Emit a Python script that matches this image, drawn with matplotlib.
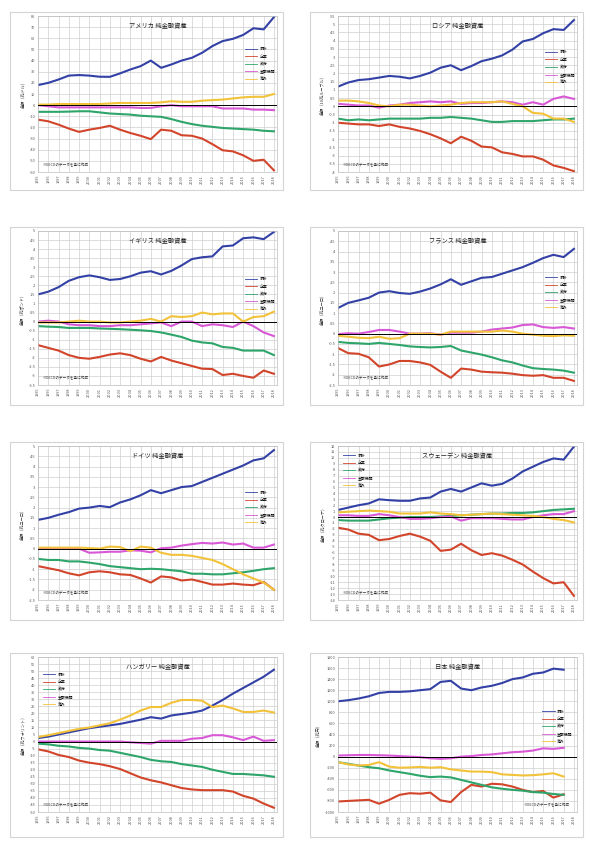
"""Net financial assets by sector for eight countries (OECD data)."""

import matplotlib

matplotlib.use("Agg")
import matplotlib.pyplot as plt
from matplotlib.patches import Rectangle
from matplotlib.ticker import FuncFormatter, MultipleLocator

plt.rcParams["font.family"] = ["Noto Sans CJK JP", "DejaVu Sans"]

years = [1995, 1996, 1997, 1998, 1999, 2000, 2001, 2002, 2003, 2004, 2005, 2006,
         2007, 2008, 2009, 2010, 2011, 2012, 2013, 2014, 2015, 2016, 2017, 2018]
sectors = ["家計", "企業", "政府", "金融機関", "海外"]

# アメリカ
usa_household = [18, 20, 23, 26.5, 27, 26.5, 25.5, 25.4, 28.5, 32, 35, 40,
                 33.5, 36.5, 40, 42.5, 47, 53, 57.5, 59.5, 63, 69, 68, 79]
usa_corporate = [-13, -14.5, -17.5, -21, -24, -22, -20.5, -18.5, -22, -25, -27.5, -30.5,
                 -22, -23, -27, -27.5, -30, -35, -40.5, -41.5, -45, -50, -49, -58.5]
usa_government = [-6, -6, -6, -5.8, -5.5, -5.5, -6.5, -7.5, -8, -8.5, -9.5, -10,
                  -10.5, -12.5, -15, -17, -18.5, -19.5, -20.5, -21, -21.5, -22, -23, -23.5]
usa_financial = [0, -1, -2, -2, -2, -2, -2, -2, -2, -2, -2.5, -2.5,
                 -1, 0, -1, -1, -1, -1, -3, -3, -3, -4, -4, -4.5]
usa_foreign = [0.5, 0.5, 1, 1, 1, 1, 1, 1.5, 2, 2, 2, 2,
               2.5, 3.5, 3, 3, 4, 4.5, 5, 6, 7, 7.5, 7.5, 10]

# ロシア
rus_household = [1.2, 1.45, 1.6, 1.65, 1.75, 1.85, 1.8, 1.7, 1.85, 2.05, 2.35, 2.5,
                 2.2, 2.45, 2.75, 2.9, 3.1, 3.45, 3.95, 4.1, 4.45, 4.7, 4.65, 5.25]
rus_corporate = [-1.0, -1.05, -1.1, -1.1, -1.2, -1.1, -1.25, -1.35, -1.5, -1.7, -1.95, -2.25,
                 -1.85, -2.1, -2.45, -2.5, -2.8, -2.9, -3.05, -3.05, -3.25, -3.6, -3.75, -3.95]
rus_government = [-0.75, -0.85, -0.8, -0.85, -0.8, -0.75, -0.75, -0.75, -0.75, -0.7, -0.7, -0.65,
                  -0.7, -0.75, -0.85, -0.95, -0.95, -0.9, -0.9, -0.9, -0.85, -0.8, -0.8, -0.75]
rus_financial = [0.15, 0.1, 0.05, 0.05, -0.08, 0.05, 0.1, 0.2, 0.25, 0.3, 0.25, 0.3,
                 0.15, 0.2, 0.2, 0.25, 0.3, 0.25, 0.1, 0.25, 0.1, 0.45, 0.6, 0.45]
rus_foreign = [0.35, 0.35, 0.3, 0.2, 0.05, 0.0, 0.1, 0.1, 0.05, 0.0, 0.05, 0.1,
               0.2, 0.25, 0.25, 0.25, 0.3, 0.15, 0.0, -0.4, -0.45, -0.75, -0.75, -0.95]

# イギリス
gbr_household = [1.5, 1.65, 1.9, 2.25, 2.45, 2.55, 2.45, 2.3, 2.35, 2.5, 2.7, 2.78,
                 2.6, 2.8, 3.1, 3.45, 3.55, 3.6, 4.15, 4.2, 4.6, 4.65, 4.55, 4.95]
gbr_corporate = [-1.3, -1.45, -1.6, -1.85, -2.0, -2.05, -1.95, -1.82, -1.75, -1.85, -2.05, -2.2,
                 -1.95, -2.15, -2.3, -2.45, -2.6, -2.62, -2.95, -2.88, -3.0, -3.1, -2.7, -2.88]
gbr_government = [-0.25, -0.28, -0.3, -0.35, -0.35, -0.35, -0.38, -0.4, -0.42, -0.45, -0.48, -0.52,
                  -0.6, -0.72, -0.85, -1.05, -1.15, -1.2, -1.4, -1.45, -1.6, -1.6, -1.6, -1.85]
gbr_financial = [0, 0.05, 0.0, -0.15, -0.2, -0.2, -0.25, -0.25, -0.2, -0.2, -0.15, -0.1,
                 -0.05, -0.25, 0.0, 0.0, -0.25, -0.15, -0.2, -0.3, 0.0, -0.25, -0.6, -0.8]
gbr_foreign = [-0.05, -0.05, -0.05, 0.0, 0.05, 0.0, 0.0, -0.05, -0.05, 0.0, 0.05, 0.15,
               0.0, 0.3, 0.25, 0.3, 0.5, 0.4, 0.45, 0.45, 0.0, 0.25, 0.3, 0.55]

# フランス
fra_household = [1.25, 1.5, 1.62, 1.75, 2.0, 2.07, 1.98, 1.94, 2.05, 2.2, 2.4, 2.65,
                 2.38, 2.55, 2.72, 2.76, 2.92, 3.08, 3.24, 3.45, 3.68, 3.84, 3.73, 4.13]
fra_corporate = [-0.7, -0.95, -0.98, -1.15, -1.6, -1.5, -1.33, -1.33, -1.4, -1.52, -1.85, -2.15,
                 -1.7, -1.75, -1.85, -1.88, -1.9, -1.95, -2.02, -2.05, -2.02, -2.15, -2.15, -2.3]
fra_government = [-0.4, -0.45, -0.47, -0.5, -0.45, -0.5, -0.55, -0.62, -0.65, -0.67, -0.65, -0.6,
                  -0.82, -0.92, -1.02, -1.15, -1.3, -1.4, -1.55, -1.68, -1.72, -1.75, -1.8, -1.9]
fra_financial = [-0.02, 0.02, 0.0, 0.08, 0.18, 0.18, 0.1, 0.0, 0.0, 0.02, -0.05, 0.05,
                 0.05, 0.05, 0.1, 0.2, 0.25, 0.3, 0.42, 0.45, 0.32, 0.28, 0.32, 0.25]
fra_foreign = [-0.1, -0.15, -0.2, -0.22, -0.15, -0.25, -0.22, 0.0, 0.0, 0.0, -0.05, 0.1,
               0.1, 0.1, 0.1, 0.1, 0.15, 0.1, 0.0, -0.05, -0.1, -0.12, -0.08, -0.1]

# ドイツ
deu_household = [1.4, 1.5, 1.65, 1.78, 1.95, 2.0, 2.08, 2.02, 2.25, 2.4, 2.6, 2.85,
                 2.7, 2.85, 3.0, 3.05, 3.25, 3.45, 3.65, 3.85, 4.05, 4.3, 4.4, 4.8]
deu_corporate = [-0.85, -0.95, -1.05, -1.2, -1.3, -1.15, -1.1, -1.15, -1.25, -1.28, -1.45, -1.65,
                 -1.35, -1.4, -1.55, -1.5, -1.62, -1.75, -1.75, -1.7, -1.75, -1.78, -1.62, -2.0]
deu_government = [-0.5, -0.55, -0.55, -0.62, -0.62, -0.68, -0.75, -0.85, -0.9, -0.95, -1.0, -0.98,
                  -1.0, -1.05, -1.1, -1.22, -1.22, -1.25, -1.25, -1.2, -1.15, -1.08, -1.0, -0.95]
deu_financial = [0, 0, 0, 0, 0, -0.2, -0.18, -0.15, -0.15, -0.08, -0.1, -0.18,
                 0.02, 0.05, 0.15, 0.22, 0.28, 0.25, 0.3, 0.2, 0.25, 0.05, 0.05, 0.2]
deu_foreign = [0.05, 0.05, 0.05, 0.05, 0.05, 0.03, 0.0, 0.1, 0.08, -0.12, 0.1, 0.05,
               -0.2, -0.3, -0.3, -0.35, -0.45, -0.55, -0.75, -1.0, -1.25, -1.45, -1.65, -2.0]

# スウェーデン
swe_household = [1.2, 1.6, 2.0, 2.3, 3.0, 2.85, 2.75, 2.75, 3.15, 3.3, 4.3, 4.75,
                 4.3, 5.0, 5.7, 5.3, 5.6, 6.5, 7.7, 8.5, 9.3, 9.9, 9.7, 11.9]
swe_corporate = [-1.8, -2.1, -2.8, -3.0, -3.9, -3.7, -3.2, -2.8, -3.3, -4.0, -5.7, -5.5,
                 -4.5, -5.6, -6.4, -6.1, -6.5, -7.2, -8.0, -9.2, -10.3, -11.2, -11.0, -13.3]
swe_government = [-0.5, -0.6, -0.6, -0.6, -0.4, -0.2, -0.1, 0, 0, 0.0, 0.1, 0.2,
                  0.3, 0.4, 0.5, 0.6, 0.6, 0.7, 0.7, 0.8, 1.0, 1.2, 1.3, 1.4]
swe_financial = [0.3, 0.3, 0.2, 0.2, 0.5, 0.3, 0.0, -0.3, -0.3, -0.2, 0.0, 0.1,
                 -0.6, -0.2, -0.2, -0.2, -0.3, -0.4, -0.4, 0.0, 0.3, 0.5, 0.5, 1.0]
swe_foreign = [0.8, 0.9, 1.0, 1.1, 1.0, 0.9, 0.6, 0.6, 0.6, 0.8, 0.6, 0.5,
               0.3, 0.4, 0.5, 0.6, 0.5, 0.4, 0.3, 0.2, 0.0, -0.3, -0.5, -0.9]

# ハンガリー
hun_household = [2.5, 3.5, 5.0, 6.5, 8.0, 9.5, 10.5, 11.5, 12.5, 14, 15.5, 17.3,
                 16.3, 18.5, 19.5, 20.5, 22, 25.5, 29.5, 34, 38, 42, 46, 51]
hun_corporate = [-5.5, -7, -9.5, -11, -13.5, -15, -16, -17.5, -19.5, -22.5, -25.5, -27.5,
                 -29, -31, -33, -34, -34.5, -34.5, -34.5, -35.5, -38.5, -40.5, -44, -47]
hun_government = [-1.5, -2, -3, -3.5, -4.5, -5, -6, -6.5, -8, -9.5, -11, -13,
                  -14, -14.5, -16, -17, -18, -20, -21.5, -23, -23, -23.5, -24, -25]
hun_financial = [0, 0, 0, 0, 0, 0, 0, 0, 0, -0.5, -1, -1.5,
                 0.5, 0.5, 0.5, 2, 2.5, 4.5, 4.5, 3, 1, 3.5, 0.5, 1]
hun_foreign = [3.2, 4.5, 6, 7.5, 9, 10, 11.5, 13, 15.5, 18.5, 22, 24.5,
               24.5, 27.5, 29.5, 29.5, 29, 24.5, 25.5, 23.5, 21, 21, 22, 20.6]

# 日本 (2017年まで)
jpn_household = [1000, 1020, 1050, 1090, 1150, 1170, 1170, 1180, 1200, 1220, 1350, 1370,
                 1230, 1200, 1250, 1280, 1330, 1400, 1430, 1497, 1520, 1590, 1570]
jpn_corporate = [-810, -800, -790, -780, -850, -780, -690, -660, -670, -650, -790, -820,
                 -640, -510, -540, -490, -500, -540, -600, -640, -620, -740, -680]
jpn_government = [-100, -130, -160, -190, -210, -250, -280, -310, -345, -370, -360, -375,
                  -420, -465, -510, -555, -580, -600, -615, -640, -650, -675, -690]
jpn_financial = [20, 25, 30, 30, 25, 20, 10, 0, -10, -30, -40, -30,
                 0, 10, 30, 40, 60, 80, 90, 110, 150, 140, 160]
jpn_foreign = [-100, -140, -160, -150, -100, -180, -200, -195, -185, -200, -190, -230,
               -250, -270, -270, -280, -320, -330, -340, -335, -320, -300, -360]

colors = ["#3341a6", "#d2452b", "#2ea56a", "#d858d6", "#f2c23a"]
note_text = "※OECDのデータを基に作成"

# figure pixel boxes for plot areas and chart frames
col_x = [(38, 277), (338, 577)]
row_y = [(16, 172), (231, 385), (446, 600), (657, 812)]
frame_x = [(10, 283), (310, 583)]
frame_y = [(12, 190), (227, 405), (442, 620), (653, 837)]

panels = [
    dict(title="アメリカ 純金融資産", ylabel="金額（兆ドル）",
         series=[usa_household, usa_corporate, usa_government, usa_financial, usa_foreign],
         ylim=(-60, 80), step=10, legend=(0.865, 0.80), note=(0.02, 0.045, "left")),
    dict(title="ロシア 純金融資産", ylabel="金額（10兆ルーブル）",
         series=[rus_household, rus_corporate, rus_government, rus_financial, rus_foreign],
         ylim=(-4, 5.5), step=0.5, legend=(0.865, 0.78), note=(0.02, 0.045, "left")),
    dict(title="イギリス 純金融資産", ylabel="金額（兆ポンド）",
         series=[gbr_household, gbr_corporate, gbr_government, gbr_financial, gbr_foreign],
         ylim=(-3.5, 5), step=0.5, legend=(0.865, 0.70), note=(0.02, 0.045, "left")),
    dict(title="フランス 純金融資産", ylabel="金額（兆ユーロ）",
         series=[fra_household, fra_corporate, fra_government, fra_financial, fra_foreign],
         ylim=(-2.5, 5), step=0.5, legend=(0.865, 0.71), note=(0.02, 0.045, "left")),
    dict(title="ドイツ 純金融資産", ylabel="金額（兆ユーロ）",
         series=[deu_household, deu_corporate, deu_government, deu_financial, deu_foreign],
         ylim=(-2.5, 5), step=0.5, legend=(0.865, 0.71), note=(0.02, 0.045, "left")),
    dict(title="スウェーデン 純金融資産", ylabel="金額（兆クローナ）",
         series=[swe_household, swe_corporate, swe_government, swe_financial, swe_foreign],
         ylim=(-14, 12), step=1, legend=(0.02, 0.95), note=(0.02, 0.045, "left")),
    dict(title="ハンガリー 純金融資産", ylabel="金額（兆フォリント）",
         series=[hun_household, hun_corporate, hun_government, hun_financial, hun_foreign],
         ylim=(-50, 60), step=5, legend=(0.02, 0.90), note=(0.02, 0.045, "left")),
    dict(title="日本 純金融資産", ylabel="金額（兆円）",
         series=[jpn_household, jpn_corporate, jpn_government, jpn_financial, jpn_foreign],
         ylim=(-1000, 1800), step=200, legend=(0.855, 0.66), note=(0.97, 0.045, "right")),
]

W, H = 600, 847
fig = plt.figure(figsize=(W / 100, H / 100), dpi=100)
fmt = FuncFormatter(lambda v, _: f"{v:g}")

for k, panel in enumerate(panels):
    row, col = divmod(k, 2)
    x0, x1 = col_x[col]
    y0, y1 = row_y[row]
    fx0, fx1 = frame_x[col]
    fy0, fy1 = frame_y[row]

    fig.add_artist(Rectangle((fx0 / W, 1 - fy1 / H), (fx1 - fx0) / W, (fy1 - fy0) / H,
                             transform=fig.transFigure, fill=False,
                             edgecolor="#d4d4d4", linewidth=0.8))

    ax = fig.add_axes([x0 / W, 1 - y1 / H, (x1 - x0) / W, (y1 - y0) / H])
    for name, values, color in zip(sectors, panel["series"], colors):
        ax.plot(range(len(values)), values, color=color, linewidth=1.5,
                label=name, solid_joinstyle="round")
    ax.axhline(0, color="black", linewidth=0.7, zorder=3)

    ax.set_xlim(0, len(years) - 0.7)
    ax.set_ylim(*panel["ylim"])
    ax.yaxis.set_major_locator(MultipleLocator(panel["step"]))
    ax.yaxis.set_major_formatter(fmt)
    ax.set_xticks(range(len(years)))
    ax.set_xticklabels([str(y) for y in years], rotation=90)
    ax.tick_params(axis="both", labelsize=2.8, length=0, pad=2, colors="#555555")
    ax.grid(True, color="#cfcfcf", linewidth=0.5)
    ax.set_axisbelow(True)
    for spine in ax.spines.values():
        spine.set_color("#bdbdbd")
        spine.set_linewidth(0.5)

    ax.set_ylabel(panel["ylabel"], fontsize=3, labelpad=3, color="#333333")
    ax.text(0.5, 0.935, panel["title"], transform=ax.transAxes, ha="center",
            va="center", fontsize=4.5, color="#222222")
    nx, ny, nha = panel["note"]
    ax.text(nx, ny, note_text, transform=ax.transAxes, ha=nha, va="center",
            fontsize=2.6, color="#333333")

    lx, ly = panel["legend"]
    ax.legend(loc="upper left", bbox_to_anchor=(lx, ly), frameon=False, fontsize=2.8,
              handlelength=3.2, handletextpad=0.6, labelspacing=0.9, borderpad=0,
              borderaxespad=0)
    for line in ax.get_legend().get_lines():
        line.set_linewidth(0.6)

fig.savefig("out.png", dpi=100, facecolor="white")
